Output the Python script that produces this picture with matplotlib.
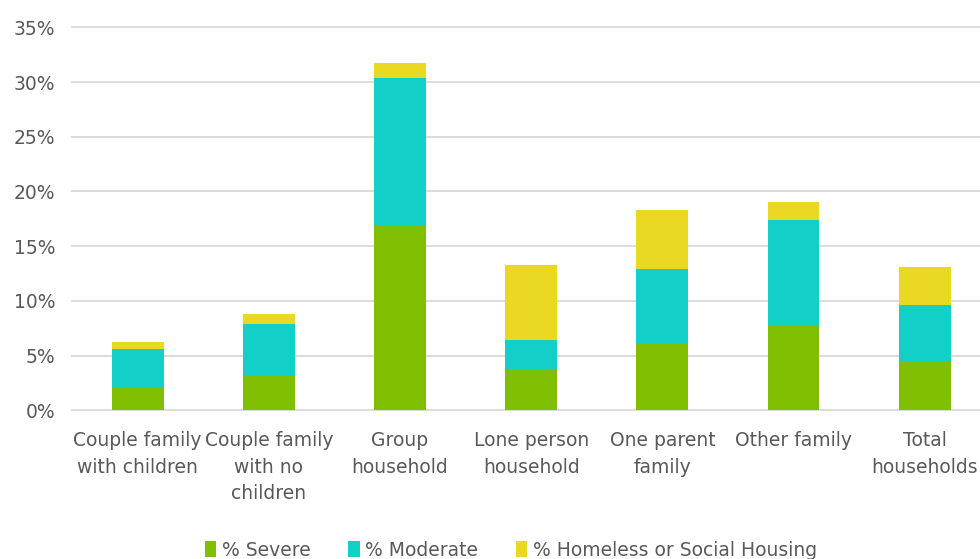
import matplotlib.pyplot as plt
import numpy as np
from matplotlib.ticker import FuncFormatter

categories = ["Couple family\nwith children", "Couple family\nwith no\nchildren", "Group\nhousehold",
              "Lone person\nhousehold", "One parent\nfamily", "Other family", "Total\nhouseholds"]
severe = [2.0, 3.1, 16.9, 3.8, 6.1, 7.7, 4.5]
moderate = [3.6, 4.8, 13.5, 2.6, 6.8, 9.7, 5.1]
homeless = [0.6, 0.9, 1.3, 6.9, 5.4, 1.6, 3.5]

plt.rcParams['font.family'] = ['Liberation Sans Narrow', 'DejaVu Sans']
grey = '#595959'

fig = plt.figure(figsize=(9.8, 5.59), dpi=100)
ax = fig.add_axes([0.0735, 0.266, 0.937, 0.685])

x = np.arange(len(categories))
w = 0.396
sev = np.array(severe)
mod = np.array(moderate)
hom = np.array(homeless)
ax.bar(x, sev, w, color='#7FBE00', label='% Severe', zorder=3)
ax.bar(x, mod, w, bottom=sev, color='#12CFC8', label='% Moderate', zorder=3)
ax.bar(x, hom, w, bottom=sev + mod, color='#EAD821', label='% Homeless or Social Housing', zorder=3)

ax.set_xlim(-0.5, len(categories) - 0.5)
ax.set_ylim(0, 35)
ax.set_yticks(range(0, 36, 5))
ax.yaxis.set_major_formatter(FuncFormatter(lambda v, p: f"{v:.0f}%"))
ax.grid(axis='y', color='#D9D9D9', linewidth=1.3, zorder=0)
for gl in ax.get_ygridlines():
    gl.set_clip_on(False)
for s in ax.spines.values():
    s.set_visible(False)
ax.tick_params(axis='both', length=0, colors=grey, labelsize=13.5)
ax.tick_params(axis='y', pad=12)
ax.tick_params(axis='x', pad=15)
ax.set_xticks(x)
ax.set_xticklabels(categories, linespacing=1.5)

ax.legend(loc='center', bbox_to_anchor=(0.478, -0.365), ncol=3, frameon=False,
          fontsize=13.5, labelcolor=grey, handlelength=0.6, handleheight=0.9,
          handletextpad=0.3, columnspacing=2.0)

fig.savefig('out.png', dpi=100)
